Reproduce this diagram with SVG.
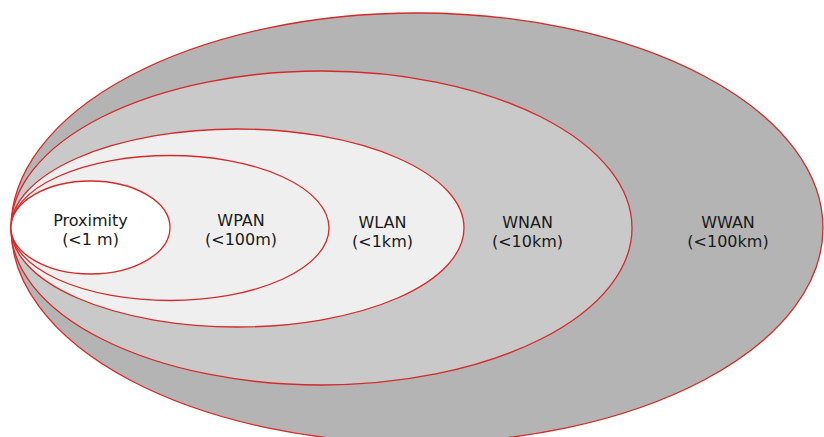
<svg xmlns="http://www.w3.org/2000/svg" width="824" height="437" viewBox="0 0 824 437">
<style>
.ring{stroke:#d42a2a;stroke-width:1.3}
.lbl{font-family:"DejaVu Sans",Verdana,sans-serif;font-size:16px;fill:#1a1a1a;text-anchor:middle}
</style>
<rect width="824" height="437" fill="#ffffff"/>
<g id="wwan">
<ellipse class="ring" cx="417" cy="228" rx="406" ry="215" fill="#b4b4b4"/>
</g>
<g id="wnan">
<ellipse class="ring" cx="321.5" cy="228" rx="310.5" ry="157" fill="#c9c9c9"/>
</g>
<g id="wlan">
<ellipse class="ring" cx="237.5" cy="228" rx="226.5" ry="99" fill="#efefef"/>
</g>
<g id="wpan">
<ellipse class="ring" cx="170" cy="228" rx="159" ry="72.5" fill="#efefef"/>
</g>
<g id="proximity">
<ellipse class="ring" cx="90.5" cy="227.5" rx="79.5" ry="46.5" fill="#ffffff"/>
</g>
<g id="labels">
<text class="lbl" x="90.5" y="226">Proximity</text>
<text class="lbl" x="90.5" y="245">(&lt;1 m)</text>
<text class="lbl" x="241" y="226">WPAN</text>
<text class="lbl" x="241" y="245">(&lt;100m)</text>
<text class="lbl" x="382.5" y="228">WLAN</text>
<text class="lbl" x="382.5" y="247">(&lt;1km)</text>
<text class="lbl" x="527.5" y="228">WNAN</text>
<text class="lbl" x="527.5" y="247">(&lt;10km)</text>
<text class="lbl" x="728" y="228">WWAN</text>
<text class="lbl" x="728" y="247">(&lt;100km)</text>
</g>
<g id="connectors"></g>
</svg>
